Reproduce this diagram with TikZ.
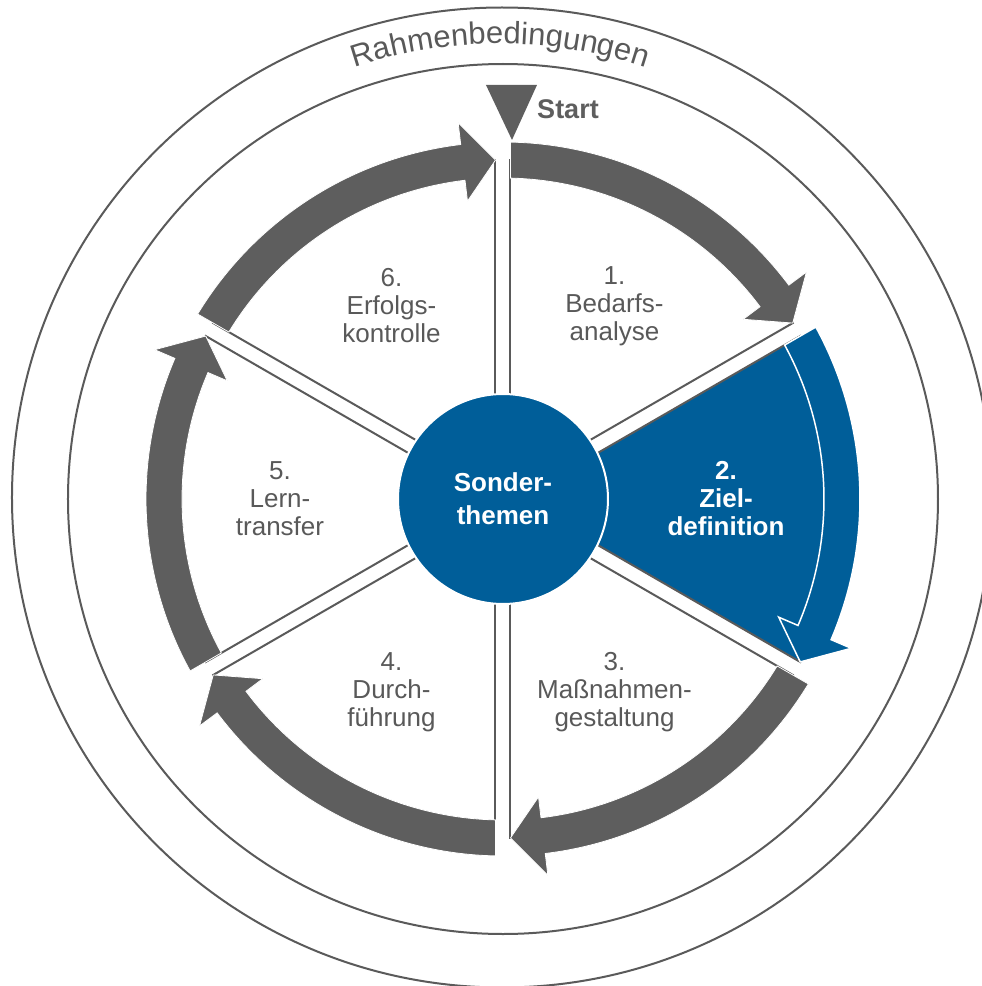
\documentclass[tikz,border=0pt]{standalone}
\usepackage{fontspec}
\setmainfont{Liberation Sans}
\usetikzlibrary{decorations.text,calc}
\definecolor{arrowgray}{RGB}{94,94,94}
\definecolor{linegray}{RGB}{90,90,90}
\definecolor{txtgray}{RGB}{89,89,89}
\definecolor{mainblue}{RGB}{0,94,153}
\tikzset{
  ring/.style={draw=linegray, line width=2pt},
  sectoredge/.style={draw=linegray, line width=2pt},
  cyclearrow/.style={fill=arrowgray, draw=white, line width=0.8pt, line join=miter},
  bluearrow/.style={fill=mainblue, draw=white, line width=1.5pt, line join=miter},
  steplabel/.style={text=txtgray, align=center, font=\fontsize{26}{28}\selectfont},
  bluelabel/.style={text=white, align=center, font=\bfseries\fontsize{26}{28}\selectfont},
}
\begin{document}
\begin{tikzpicture}[x=1pt,y=1pt]
\useasboundingbox (-503,-487) rectangle (479,499);
% frame rings
\draw[ring] (-1,1.5) circle[radius=490];
\draw[ring] (0,0) circle[radius=435];
% sectors
\foreach \t/\f in {60/white,0/mainblue,-60/white,-120/white,180/white,120/white}{
  \pgfmathsetmacro{\a}{\t+30}
  \pgfmathsetmacro{\b}{\t-30}
  \pgfmathsetmacro{\as}{\t+30-1.264}
  \pgfmathsetmacro{\be}{\t-30+1.264}
  \fill[\f] ($(0,0)+({\a-90}:7.5)$) -- ($(\a:339.9)+({\a-90}:7.5)$)
     arc[start angle=\as, end angle=\be, radius=340]
     -- ($(0,0)+({\b+90}:7.5)$) -- cycle;
  \draw[sectoredge] ($(\a:100)+({\a-90}:7.5)$) -- ($(\a:339.9)+({\a-90}:7.5)$);
  \draw[sectoredge] ($(\b:100)+({\b+90}:7.5)$) -- ($(\b:339.9)+({\b+90}:7.5)$);
}
% gray arrows
\foreach \t in {60,-60,-120,180,120}{
  \pgfmathsetmacro{\aone}{\t+30-1.204}
  \pgfmathsetmacro{\atwo}{\t+30-1.339}
  \pgfmathsetmacro{\ah}{\t-23.2}
  \pgfmathsetmacro{\at}{\t-30+1.268}
  \path[cyclearrow] (\aone:357) arc[start angle=\aone, end angle=\ah, radius=357]
    -- (\ah:379) -- (\at:339) -- (\ah:300) -- (\ah:321)
    arc[start angle=\ah, end angle=\atwo, radius=321] -- cycle;
}
% blue arrow
\pgfmathsetmacro{\aone}{30-1.204}
\pgfmathsetmacro{\atwo}{30-1.339}
\pgfmathsetmacro{\ah}{-23.2}
\pgfmathsetmacro{\at}{-30+1.268}
\path[bluearrow] (\aone:357) arc[start angle=\aone, end angle=\ah, radius=357]
    -- (\ah:379) -- (\at:339) -- (\ah:300) -- (\ah:321)
    arc[start angle=\ah, end angle=\atwo, radius=321] -- cycle;
% centre
\node[circle, fill=mainblue, draw=white, line width=2pt, minimum size=210pt, inner sep=0pt,
      align=center, text=white, font=\bfseries\fontsize{26}{33}\selectfont] (centre) at (0,0) {Sonder-\\themen};
% labels
\node[steplabel] (s1) at (60:223) {1.\\Bedarfs-\\analyse};
\node[bluelabel] (s2) at (0:223) {2.\\Ziel-\\definition};
\node[steplabel] (s3) at (-60:223) {3.\\Maßnahmen-\\gestaltung};
\node[steplabel] (s4) at (-120:223) {4.\\Durch-\\führung};
\node[steplabel] (s5) at (180:223) {5.\\Lern-\\transfer};
\node[steplabel] (s6) at (120:223) {6.\\Erfolgs-\\kontrolle};
% start marker
\fill[arrowgray] (-17,414) -- (34,414) -- (9,359) -- cycle;
\node[text=arrowgray, font=\bfseries\fontsize{27}{27}\selectfont] (start) at (65,390) {Start};
% curved title
\path[decorate, decoration={text along path, text align=center, text color=txtgray,
  text={|\fontsize{31}{36}\selectfont|Rahmenbedingungen}}]
  ($(-3,-5)+(160:460)$) arc[start angle=160, end angle=20, radius=460];
\end{tikzpicture}
\end{document}
